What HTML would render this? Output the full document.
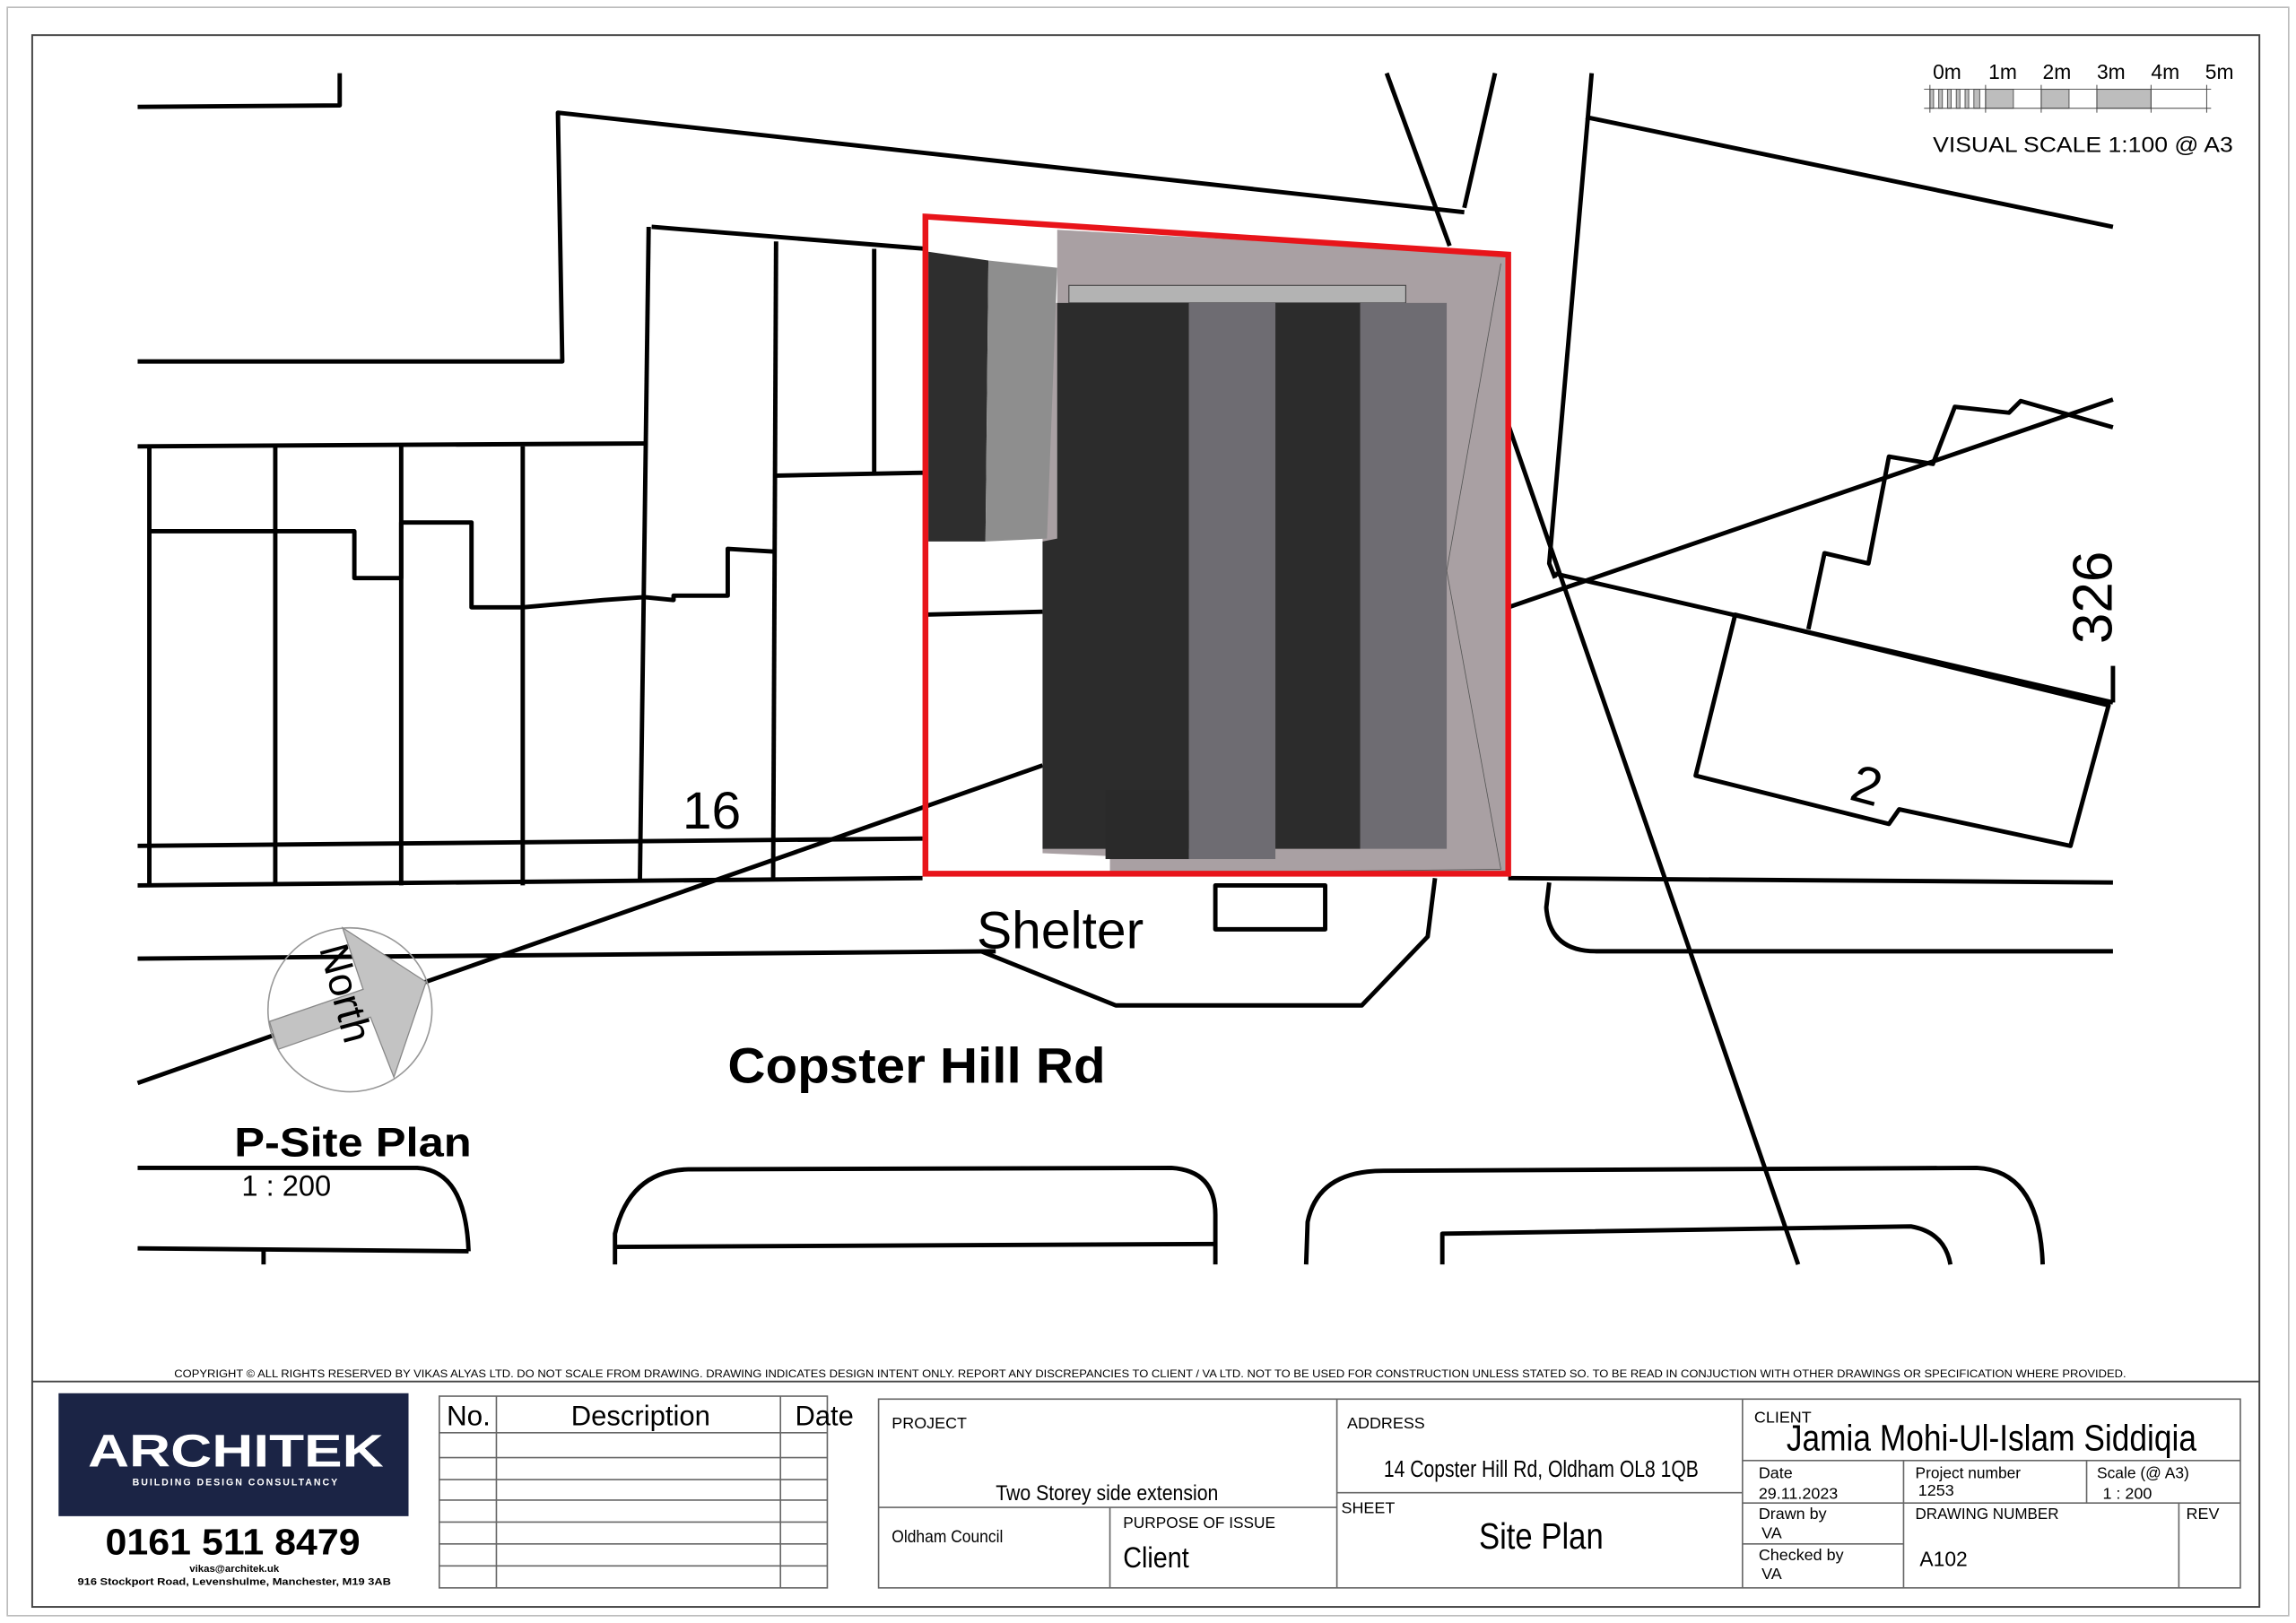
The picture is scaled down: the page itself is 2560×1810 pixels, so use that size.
<!DOCTYPE html>
<html><head><meta charset="utf-8"><style>
html,body{margin:0;padding:0;background:#fff;width:2560px;height:1810px;overflow:hidden}
svg{display:block}
text{font-family:"Liberation Sans",Arial,sans-serif;fill:#000}
</style></head><body>
<svg width="2560" height="1810" viewBox="0 0 1568 1109" preserveAspectRatio="none" xmlns="http://www.w3.org/2000/svg">
<rect x="0" y="0" width="1568" height="1109" fill="#fff"/>
<rect x="5" y="5" width="1558" height="1099" fill="none" stroke="#bbb" stroke-width="1"/>
<rect x="22" y="24" width="1521" height="1074" fill="none" stroke="#444" stroke-width="1.2"/>
<line x1="22" y1="944" x2="1543" y2="944" stroke="#444" stroke-width="1.2"/>

<!-- map lines -->
<g fill="none" stroke="#000" stroke-width="3" stroke-linejoin="round">
<polyline points="94,73 232,72 232,50"/>
<polyline points="94,247 384,247 381,77 1000,145"/>
<polyline points="947,50 990,168"/>
<polyline points="1021,50 1000,142"/>
<polyline points="1443,155 1083,80"/>
<polyline points="1087,50 1058,385 1062,395"/>
<polyline points="1030,290 1228,864"/>
<line x1="1030" y1="415" x2="1443" y2="273"/>
<line x1="1062" y1="392" x2="1443" y2="480"/>
<polyline points="1235,430 1246,378 1276,385 1290,312 1320,317 1335,278 1372,282 1380,274 1443,292"/>
<polygon points="1185,420 1440,482 1414,578 1297,553 1290,563 1158,530"/>
<line x1="1443" y1="455" x2="1443" y2="480"/>
<line x1="94" y1="605" x2="630" y2="600"/>
<line x1="1030" y1="600" x2="1443" y2="603"/>
<line x1="94" y1="578" x2="630" y2="573"/>
<line x1="94" y1="655" x2="680" y2="650"/>
<path d="M1058,603 L1056,620 Q1058,650 1090,650 L1443,650"/>
<rect x="830" y="605" width="75" height="30"/>
<polyline points="670,650 762,687 930,687 975,640 980,600"/>
<line x1="94" y1="740" x2="712" y2="523"/>
<line x1="94" y1="305" x2="440" y2="303"/>
<line x1="102" y1="305" x2="102" y2="605"/>
<line x1="188" y1="305" x2="188" y2="605"/>
<line x1="274" y1="305" x2="274" y2="605"/>
<line x1="357" y1="305" x2="357" y2="605"/>
<polyline points="445,155 632,170"/>
<line x1="443" y1="155" x2="437" y2="602"/>
<line x1="530" y1="165" x2="528" y2="602"/>
<line x1="597" y1="170" x2="597" y2="325"/>
<line x1="530" y1="325" x2="632" y2="323"/>
<line x1="632" y1="420" x2="712" y2="418"/>
<polyline points="102,363 242,363 242,395 274,395 274,357 322,357 322,415 357,415 390,412 412,410 440,408 460,410 460,407 497,407 497,375 530,377"/>
<path d="M94,798 L285,798 Q318,800 320,855"/>
<line x1="94" y1="853" x2="320" y2="855"/>
<line x1="180" y1="853" x2="180" y2="864"/>
<path d="M420,864 L420,843 Q430,800 470,799 L800,798 Q830,800 830,830 L830,864"/>
<line x1="420" y1="852" x2="830" y2="850"/>
<path d="M892,864 L893,835 Q900,800 945,800 L1350,798 Q1393,800 1395,864"/>
<path d="M985,864 L985,843 L1305,838 Q1328,842 1332,864"/>
</g>

<!-- building -->
<polygon points="722,157 1028,174 1028,597 758,597 758,585 712,583 712,207 722,207" fill="#a9a0a3"/>
<polygon points="634,172 675,178 673,370 634,370" fill="#2e2e2e"/>
<polygon points="675,178 722,183 715,368 673,370" fill="#8e8e8e"/>
<rect x="730" y="195" width="230" height="12" fill="#b3b3b3" stroke="#333" stroke-width="0.6"/>
<polygon points="722,207 812,207 812,580 712,580 712,370 722,368" fill="#2c2c2c"/>
<rect x="755" y="540" width="57" height="47" fill="#2a2a2a"/>
<rect x="812" y="207" width="59" height="380" fill="#6e6c72"/>
<rect x="871" y="207" width="58" height="373" fill="#2c2c2c"/>
<rect x="929" y="207" width="59" height="373" fill="#6e6c72"/>
<g stroke="#555" stroke-width="0.5" fill="none">
<line x1="1025" y1="180" x2="988" y2="390"/><line x1="988" y1="390" x2="1025" y2="594"/>
<line x1="758" y1="597" x2="1025" y2="594"/>
</g>
<polygon points="632,148 1030,174 1030,597 632,597" fill="none" stroke="#e8141a" stroke-width="4"/>

<!-- labels -->
<text x="466" y="566" font-size="36">16</text>
<text x="667" y="648" font-size="36">Shelter</text>
<text x="497" y="740" font-size="34" font-weight="bold" textLength="258" lengthAdjust="spacingAndGlyphs">Copster Hill Rd</text>
<text x="160" y="790" font-size="28" font-weight="bold" textLength="162" lengthAdjust="spacingAndGlyphs">P-Site Plan</text>
<text x="165" y="817" font-size="20">1 : 200</text>
<text transform="translate(1442,440) rotate(-90)" font-size="38">326</text>
<text transform="translate(1262,546) rotate(15)" font-size="36">2</text>

<!-- north arrow -->
<circle cx="239" cy="690" r="56" fill="none" stroke="#999" stroke-width="1"/>
<polygon points="291,671 234,634 248,676 184,698 190,717 253,695 269,736" fill="#c3c3c3" stroke="#888" stroke-width="0.8"/>
<text transform="translate(218,648) rotate(75)" font-size="28">North</text>

<!-- scale bar -->
<g font-size="14">
<text x="1320" y="54">0m</text><text x="1358" y="54">1m</text><text x="1395" y="54">2m</text><text x="1432" y="54">3m</text><text x="1469" y="54">4m</text><text x="1506" y="54">5m</text>
<text x="1320" y="104" font-size="15" textLength="205" lengthAdjust="spacingAndGlyphs">VISUAL SCALE 1:100  @ A3</text>
</g>
<g fill="#bdbdbd" stroke="#555" stroke-width="0.6">
<rect x="1318" y="61" width="2.5" height="13"/><rect x="1324" y="61" width="2.5" height="13"/><rect x="1330" y="61" width="2.5" height="13"/><rect x="1336" y="61" width="2.5" height="13"/><rect x="1342" y="61" width="2.5" height="13"/><rect x="1348" y="61" width="4" height="13"/>
<rect x="1356" y="61" width="19" height="13"/><rect x="1394" y="61" width="19" height="13"/><rect x="1432" y="61" width="37" height="13"/>
</g>
<g stroke="#444" stroke-width="0.6"><line x1="1314" y1="61" x2="1510" y2="61"/><line x1="1314" y1="74" x2="1510" y2="74"/>
<line x1="1318" y1="58" x2="1318" y2="77"/><line x1="1356" y1="58" x2="1356" y2="77"/><line x1="1394" y1="58" x2="1394" y2="77"/><line x1="1432" y1="58" x2="1432" y2="77"/><line x1="1469" y1="58" x2="1469" y2="77"/><line x1="1507" y1="58" x2="1507" y2="77"/></g>

<!-- title block -->
<text x="119" y="941" font-size="7.4" textLength="1333" lengthAdjust="spacingAndGlyphs">COPYRIGHT © ALL RIGHTS RESERVED BY VIKAS ALYAS LTD. DO NOT SCALE FROM DRAWING. DRAWING INDICATES DESIGN INTENT ONLY. REPORT ANY DISCREPANCIES TO CLIENT / VA LTD. NOT TO BE USED FOR CONSTRUCTION UNLESS STATED SO. TO BE READ IN CONJUCTION WITH OTHER DRAWINGS OR SPECIFICATION WHERE PROVIDED.</text>
<rect x="40" y="952" width="239" height="84" fill="#1b2445"/>
<text x="60" y="1002" font-size="31" style="fill:#fff" textLength="202" lengthAdjust="spacingAndGlyphs" font-weight="bold">ARCHITEK</text>
<text x="161" y="1015" font-size="6.5" style="fill:#fff" text-anchor="middle" letter-spacing="1.2" font-weight="bold">BUILDING DESIGN CONSULTANCY</text>
<text x="72" y="1062" font-size="25" font-weight="bold" textLength="174" lengthAdjust="spacingAndGlyphs">0161 511 8479</text>
<text x="160" y="1074" font-size="7" text-anchor="middle" font-weight="bold">vikas@architek.uk</text>
<text x="53" y="1083" font-size="7" textLength="214" lengthAdjust="spacingAndGlyphs" font-weight="bold">916 Stockport Road, Levenshulme, Manchester, M19 3AB</text>

<g fill="none" stroke="#666" stroke-width="1">
<rect x="300" y="954" width="265" height="131"/>
<line x1="339" y1="954" x2="339" y2="1085"/><line x1="533" y1="954" x2="533" y2="1085"/>
<line x1="300" y1="979" x2="565" y2="979"/><line x1="300" y1="996" x2="565" y2="996"/><line x1="300" y1="1011" x2="565" y2="1011"/><line x1="300" y1="1025" x2="565" y2="1025"/><line x1="300" y1="1040" x2="565" y2="1040"/><line x1="300" y1="1055" x2="565" y2="1055"/><line x1="300" y1="1070" x2="565" y2="1070"/>
<rect x="600" y="956" width="930" height="129"/>
<line x1="600" y1="1030" x2="913" y2="1030"/><line x1="758" y1="1030" x2="758" y2="1085"/>
<line x1="913" y1="956" x2="913" y2="1085"/><line x1="913" y1="1020" x2="1190" y2="1020"/>
<line x1="1190" y1="956" x2="1190" y2="1085"/>
<line x1="1190" y1="998" x2="1530" y2="998"/><line x1="1190" y1="1027" x2="1530" y2="1027"/>
<line x1="1300" y1="998" x2="1300" y2="1085"/><line x1="1425" y1="998" x2="1425" y2="1027"/>
<line x1="1190" y1="1055" x2="1300" y2="1055"/><line x1="1488" y1="1027" x2="1488" y2="1085"/>
</g>
<g font-size="19"><text x="305" y="974" textLength="30" lengthAdjust="spacingAndGlyphs">No.</text><text x="390" y="974" textLength="95" lengthAdjust="spacingAndGlyphs">Description</text><text x="543" y="974" textLength="40" lengthAdjust="spacingAndGlyphs">Date</text></g>
<g font-size="11">
<text x="609" y="976">PROJECT</text>
<text x="920" y="976">ADDRESS</text>
<text x="1198" y="972">CLIENT</text>
<text x="916" y="1034">SHEET</text>
<text x="767" y="1044" textLength="104" lengthAdjust="spacingAndGlyphs">PURPOSE OF ISSUE</text>
<text x="1201" y="1010">Date</text><text x="1308" y="1010" textLength="72" lengthAdjust="spacingAndGlyphs">Project number</text><text x="1432" y="1010" textLength="63" lengthAdjust="spacingAndGlyphs">Scale (@ A3)</text>
<text x="1201" y="1024">29.11.2023</text><text x="1310" y="1022">1253</text><text x="1436" y="1024">1 : 200</text>
<text x="1201" y="1038">Drawn by</text><text x="1203" y="1051">VA</text>
<text x="1201" y="1066">Checked by</text><text x="1203" y="1079">VA</text>
<text x="1308" y="1038" textLength="98" lengthAdjust="spacingAndGlyphs">DRAWING NUMBER</text><text x="1493" y="1038">REV</text>
</g>
<text x="609" y="1054" font-size="12" textLength="76" lengthAdjust="spacingAndGlyphs">Oldham Council</text>
<text x="680" y="1025" font-size="15" textLength="152" lengthAdjust="spacingAndGlyphs">Two Storey side extension</text>
<text x="945" y="1009" font-size="16" textLength="215" lengthAdjust="spacingAndGlyphs">14 Copster Hill Rd, Oldham OL8 1QB</text>
<text x="1010" y="1058" font-size="25" textLength="85" lengthAdjust="spacingAndGlyphs">Site Plan</text>
<text x="767" y="1071" font-size="20" textLength="45" lengthAdjust="spacingAndGlyphs">Client</text>
<text x="1220" y="991" font-size="25" textLength="280" lengthAdjust="spacingAndGlyphs">Jamia Mohi-Ul-Islam Siddiqia</text>
<text x="1311" y="1070" font-size="14">A102</text>
</svg>
</body></html>
